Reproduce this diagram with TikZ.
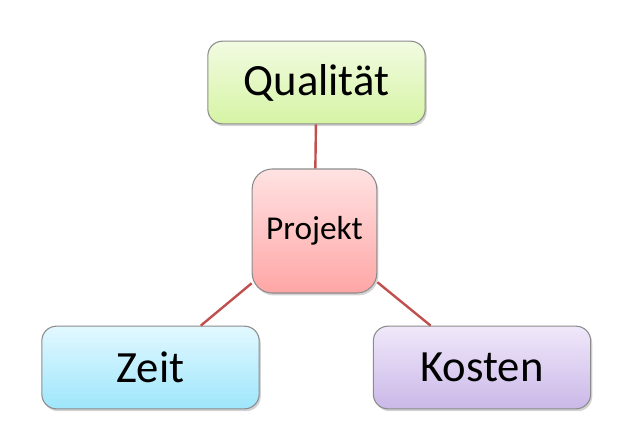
\documentclass[tikz,border=0pt]{standalone}
\usepackage{fontspec}
\setmainfont{Carlito}
\usetikzlibrary{shadows}
\definecolor{linkred}{HTML}{C0504D}
\definecolor{boxgray}{HTML}{8C8C8C}
\begin{document}
\begin{tikzpicture}[x=0.75pt, y=-0.75pt,
    box/.style={draw=boxgray, line width=0.8pt, rounded corners=11pt,
        minimum width=163pt, minimum height=62pt, inner sep=0pt,
        font=\fontsize{33.5}{38}\selectfont,
        drop shadow={shadow xshift=1.2pt, shadow yshift=-1.8pt, opacity=0.35, fill=gray}},
    link/.style={linkred, line width=1.8pt}]
    \useasboundingbox (0,0) rectangle (619,426);

    % Center
    \node[box, minimum width=93.5pt, minimum height=93pt, rounded corners=15pt,
        font=\fontsize{25}{30}\selectfont,
        top color={rgb,255:red,255;green,226;blue,226},
        bottom color={rgb,255:red,255;green,166;blue,166}] (projekt) at (314.5,231) {Projekt};

    % Outer boxes
    \node[box, top color={rgb,255:red,242;green,251;blue,226},
        bottom color={rgb,255:red,214;green,244;blue,164}] (qualitaet) at (316.5,82.5) {Qualität};
    \node[box, top color={rgb,255:red,226;green,248;blue,255},
        bottom color={rgb,255:red,158;green,230;blue,252}] (zeit) at (150.5,367.5) {Zeit};
    \node[box, top color={rgb,255:red,240;green,232;blue,250},
        bottom color={rgb,255:red,202;green,184;blue,232}] (kosten) at (482,367.5) {Kosten};

    % Links
    \foreach \n in {qualitaet, zeit, kosten} {
        \draw[link] (projekt) -- (\n);
    }
\end{tikzpicture}
\end{document}
